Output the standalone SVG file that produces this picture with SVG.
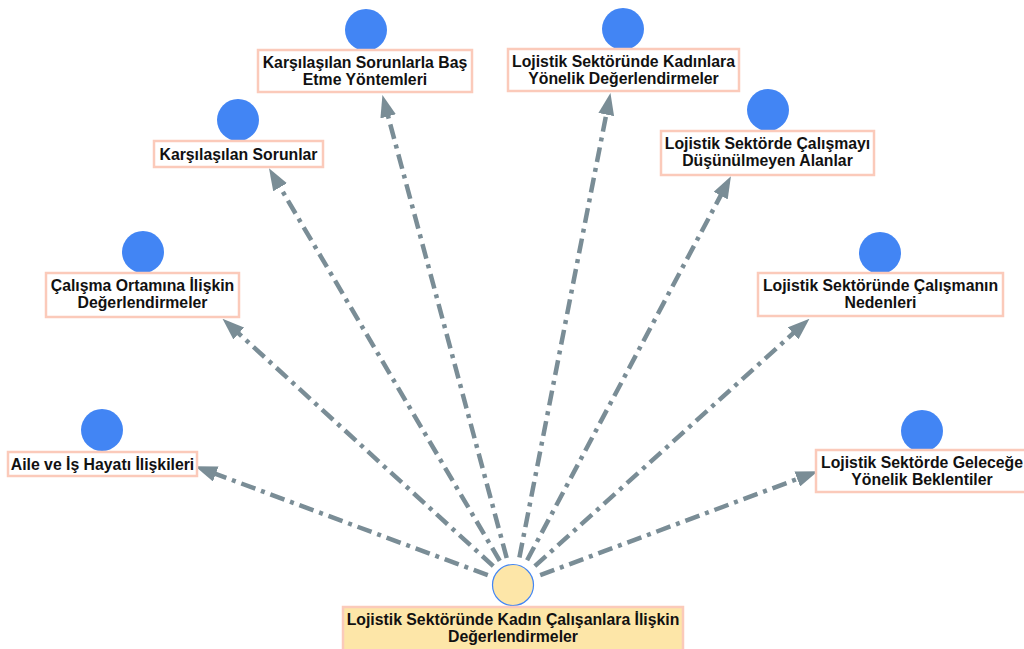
<svg xmlns="http://www.w3.org/2000/svg" width="1024" height="649" viewBox="0 0 1024 649">
<style>
.box{fill:#ffffff;stroke:#FBCABA;stroke-width:2.5}
.cbox{fill:#FDE6A8;stroke:#FBCABA;stroke-width:2.5}
.dot{fill:#4285F4}
.cdot{fill:#FDE6A8;stroke:#4285F4;stroke-width:1.2}
.t{font-family:"Liberation Sans",Arial,sans-serif;font-weight:bold;font-size:15.8px;fill:#111;text-anchor:middle}
.c{stroke:#7A8D96;stroke-width:4.5;fill:none;stroke-dasharray:15 6 4 6;marker-end:url(#ah)}
</style>
<defs>
<marker id="ah" markerUnits="userSpaceOnUse" markerWidth="22" markerHeight="16" refX="4" refY="8" orient="auto">
<path d="M0,0 L22,8 L0,16 z" fill="#7A8D96"/>
</marker>
</defs>
<rect width="1024" height="649" fill="#ffffff"/>
<g id="connectors">
<line class="c" x1="487.8" y1="575.2" x2="212" y2="472.6"/>
<line class="c" x1="493.3" y1="566.1" x2="235.8" y2="330.8"/>
<line class="c" x1="499.8" y1="560.9" x2="278.1" y2="183.8"/>
<line class="c" x1="506.7" y1="558.0" x2="387.1" y2="112.5"/>
<line class="c" x1="519.4" y1="557.5" x2="607.0" y2="110.7"/>
<line class="c" x1="527.1" y1="560.3" x2="722.5" y2="192.1"/>
<line class="c" x1="534.8" y1="566.2" x2="796.1" y2="330.7"/>
<line class="c" x1="540.2" y1="575.2" x2="801" y2="477.6"/>
</g>
<g id="n0">
<circle class="cdot" cx="513" cy="585" r="20.5"/>
<rect class="cbox" x="343" y="607" width="340" height="46"/>
<text class="t" x="513" y="625">Lojistik Sektöründe Kadın Çalışanlara İlişkin</text>
<text class="t" x="513" y="642">Değerlendirmeler</text>
</g>
<g id="n1">
<circle class="dot" cx="102" cy="430" r="21"/>
<rect class="box" x="8" y="452" width="189" height="24"/>
<text class="t" x="102.5" y="469.5">Aile ve İş Hayatı İlişkileri</text>
</g>
<g id="n2">
<circle class="dot" cx="143" cy="252" r="21"/>
<rect class="box" x="46" y="273" width="193" height="44"/>
<text class="t" x="142.5" y="290.5">Çalışma Ortamına İlişkin</text>
<text class="t" x="142.5" y="307.5">Değerlendirmeler</text>
</g>
<g id="n3">
<circle class="dot" cx="238" cy="120" r="21"/>
<rect class="box" x="154" y="141" width="169" height="26"/>
<text class="t" x="238.5" y="159.5">Karşılaşılan Sorunlar</text>
</g>
<g id="n4">
<circle class="dot" cx="366" cy="30" r="21"/>
<rect class="box" x="258" y="50" width="214" height="42"/>
<text class="t" x="365" y="67.5">Karşılaşılan Sorunlarla Baş</text>
<text class="t" x="365" y="84.5">Etme Yöntemleri</text>
</g>
<g id="n5">
<circle class="dot" cx="623" cy="29" r="21"/>
<rect class="box" x="508" y="49" width="231" height="42"/>
<text class="t" x="623.5" y="66.5">Lojistik Sektöründe Kadınlara</text>
<text class="t" x="623.5" y="83.5">Yönelik Değerlendirmeler</text>
</g>
<g id="n6">
<circle class="dot" cx="768" cy="110" r="21"/>
<rect class="box" x="661" y="131" width="213" height="44"/>
<text class="t" x="767.5" y="148.5">Lojistik Sektörde Çalışmayı</text>
<text class="t" x="767.5" y="165.5">Düşünülmeyen Alanlar</text>
</g>
<g id="n7">
<circle class="dot" cx="880" cy="253" r="21"/>
<rect class="box" x="758" y="273" width="245" height="43"/>
<text class="t" x="880.5" y="290.5">Lojistik Sektöründe Çalışmanın</text>
<text class="t" x="880.5" y="307.5">Nedenleri</text>
</g>
<g id="n8">
<circle class="dot" cx="922" cy="431" r="21"/>
<rect class="box" x="816" y="450" width="212" height="42"/>
<text class="t" x="922" y="467.5">Lojistik Sektörde Geleceğe</text>
<text class="t" x="922" y="484.5">Yönelik Beklentiler</text>
</g>
</svg>
